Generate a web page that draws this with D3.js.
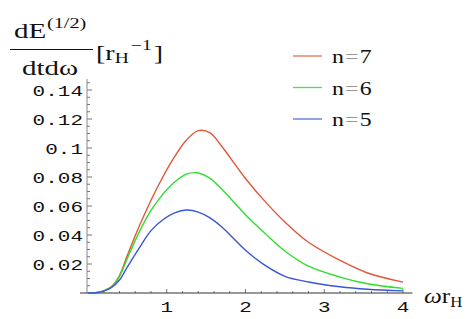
<!DOCTYPE html>
<html>
<head>
<meta charset="utf-8">
<script src="https://cdn.jsdelivr.net/npm/d3@7"></script>
<style>
  body { margin: 0; background: #fff; }
  svg { display: block; }
</style>
</head>
<body>
<svg id="chart" width="474" height="319"></svg>
<script>
// frequency grid (omega * r_H)
var omega = [0, 0.1, 0.2, 0.3, 0.4, 0.5, 0.65, 0.8, 0.95, 1.1, 1.25, 1.4, 1.55, 1.7, 2.0, 2.25, 2.5, 2.8, 3.2, 3.55, 4.0];
// energy emission rate per series
var n7 = [0, 0.0002, 0.0015, 0.0045, 0.012, 0.026, 0.046, 0.064, 0.080, 0.094, 0.1055, 0.1120, 0.1105, 0.101, 0.079, 0.063, 0.049, 0.035, 0.0225, 0.0138, 0.0075];
var n6 = [0, 0.0002, 0.0015, 0.0044, 0.0115, 0.024, 0.042, 0.057, 0.068, 0.0765, 0.0820, 0.0828, 0.079, 0.0715, 0.054, 0.041, 0.029, 0.0185, 0.011, 0.0064, 0.0032];
var n5 = [0, 0.0002, 0.0013, 0.0038, 0.009, 0.018, 0.031, 0.043, 0.0505, 0.0552, 0.0572, 0.0558, 0.0518, 0.0455, 0.0295, 0.019, 0.0115, 0.0076, 0.0043, 0.0026, 0.0015];
var seriesNames = ['n=7', 'n=6', 'n=5'];
var seriesColors = ['#e4553a', '#2fdc2f', '#3a55d6'];
var xTicks = [1, 2, 3, 4];
var yTicks = [0.02, 0.04, 0.06, 0.08, 0.1, 0.12, 0.14];

var svg = d3.select('#chart');
var x = d3.scaleLinear().domain([0, 4]).range([88, 403]);
var y = d3.scaleLinear().domain([0, 0.14]).range([293, 90]);

// text in the source is stretched sideways, so draw it with a horizontal scale
function stretched(g, px, py, sx) {
  return g.append('text').attr('transform', 'translate(' + px + ',' + py + ') scale(' + sx + ',1)');
}

// minor ticks
var xMinor = d3.range(0.2, 4.01, 0.2).filter((v) => Math.abs(v - Math.round(v)) > 1e-6);
var yMinor = d3.range(0.005, 0.146, 0.005).filter((v) => Math.abs(v / 0.02 - Math.round(v / 0.02)) > 1e-6);

var ax = svg.append('g').attr('stroke', '#777').attr('stroke-width', 1);
ax.selectAll('line.xmin')
  .data(xMinor)
  .enter()
  .append('line')
  .attr('x1', (d) => x(d)).attr('x2', (d) => x(d))
  .attr('y1', y(0)).attr('y2', y(0) - 2);
ax.selectAll('line.xmaj')
  .data(xTicks)
  .enter()
  .append('line')
  .attr('x1', (d) => x(d)).attr('x2', (d) => x(d))
  .attr('y1', y(0)).attr('y2', y(0) - 4);
ax.selectAll('line.ymin')
  .data(yMinor)
  .enter()
  .append('line')
  .attr('x1', x(0) - 1).attr('x2', x(0) + 2)
  .attr('y1', (d) => y(d)).attr('y2', (d) => y(d));
ax.selectAll('line.ymaj')
  .data(yTicks)
  .enter()
  .append('line')
  .attr('x1', x(0) - 1).attr('x2', x(0) + 4)
  .attr('y1', (d) => y(d)).attr('y2', (d) => y(d));

// axis lines
svg.append('line')
  .attr('x1', x(0) - 1).attr('x2', x(0) - 1)
  .attr('y1', y(0)).attr('y2', y(0.1475))
  .attr('stroke', '#888');
svg.append('line')
  .attr('x1', 80).attr('x2', x(4.12))
  .attr('y1', y(0)).attr('y2', y(0))
  .attr('stroke', '#333');

// tick labels
var mono = '"Liberation Mono", "DejaVu Sans Mono", monospace';
var tl = svg.append('g').attr('font-family', mono).attr('font-size', 15).attr('fill', '#111');
yTicks.forEach(function (d) {
  stretched(tl, x(0) - 5, y(d) + 5.5, 1.4).attr('text-anchor', 'end').text(String(d));
});
xTicks.forEach(function (d) {
  stretched(tl, x(d), y(0) + 19, 1.4).attr('text-anchor', 'middle').text(d);
});

// curves
var line = d3.line()
  .x((d) => x(d[0]))
  .y((d) => y(d[1]))
  .curve(d3.curveCatmullRom.alpha(0.5));
[n7, n6, n5].forEach(function (vals, i) {
  svg.append('path')
    .attr('d', line(omega.map((w, j) => [w, vals[j]])))
    .attr('fill', 'none')
    .attr('stroke', seriesColors[i])
    .attr('stroke-width', 1.4);
});

// legend
var serif = '"Liberation Serif", "DejaVu Serif", serif';
var leg = svg.append('g').attr('font-family', serif).attr('font-size', 19).attr('fill', '#111');
seriesNames.forEach(function (name, i) {
  var ly = 56 + i * 31.5;
  leg.append('line')
    .attr('x1', 293).attr('x2', 322)
    .attr('y1', ly).attr('y2', ly)
    .attr('stroke', seriesColors[i])
    .attr('stroke-width', 1.3)
    .attr('opacity', 0.85);
  var t = stretched(leg, 332, ly + 7, 1.25);
  var parts = name.split('=');
  t.append('tspan').text(parts[0]);
  t.append('tspan').attr('fill', '#999').attr('dx', 1).text('=');
  t.append('tspan').attr('dx', 1).text(parts[1]);
});

// y label: dE^(1/2) / dtdω [r_H^-1]
var yl = svg.append('g').attr('font-family', serif).attr('font-size', 20).attr('fill', '#111');
var num = stretched(yl, 14, 38, 1.45);
num.append('tspan').text('dE');
num.append('tspan').attr('font-size', 14).attr('dy', -10).attr('dx', 0.5).text('(1/2)');
yl.append('line')
  .attr('x1', 10).attr('x2', 93)
  .attr('y1', 49.5).attr('y2', 49.5)
  .attr('stroke', '#111').attr('stroke-width', 1.2);
stretched(yl, 22, 75, 1.45).text('dtdω');
var unit = stretched(yl, 96, 60, 1.4);
unit.append('tspan').text('[r');
unit.append('tspan').attr('font-size', 14).attr('dy', 3).text('H');
unit.append('tspan').attr('font-size', 14).attr('dy', -13).attr('dx', 1.5).text('−1');
unit.append('tspan').attr('dy', 10).attr('dx', 1.5).text(']');

// x label: ω r_H
var xl = stretched(svg, 424, 303, 1.2)
  .attr('font-family', serif)
  .attr('font-size', 21)
  .attr('fill', '#111');
xl.append('tspan').attr('font-style', 'italic').text('ω');
xl.append('tspan').text('r');
xl.append('tspan').attr('font-size', 14).attr('dy', 4).text('H');
</script>
</body>
</html>
